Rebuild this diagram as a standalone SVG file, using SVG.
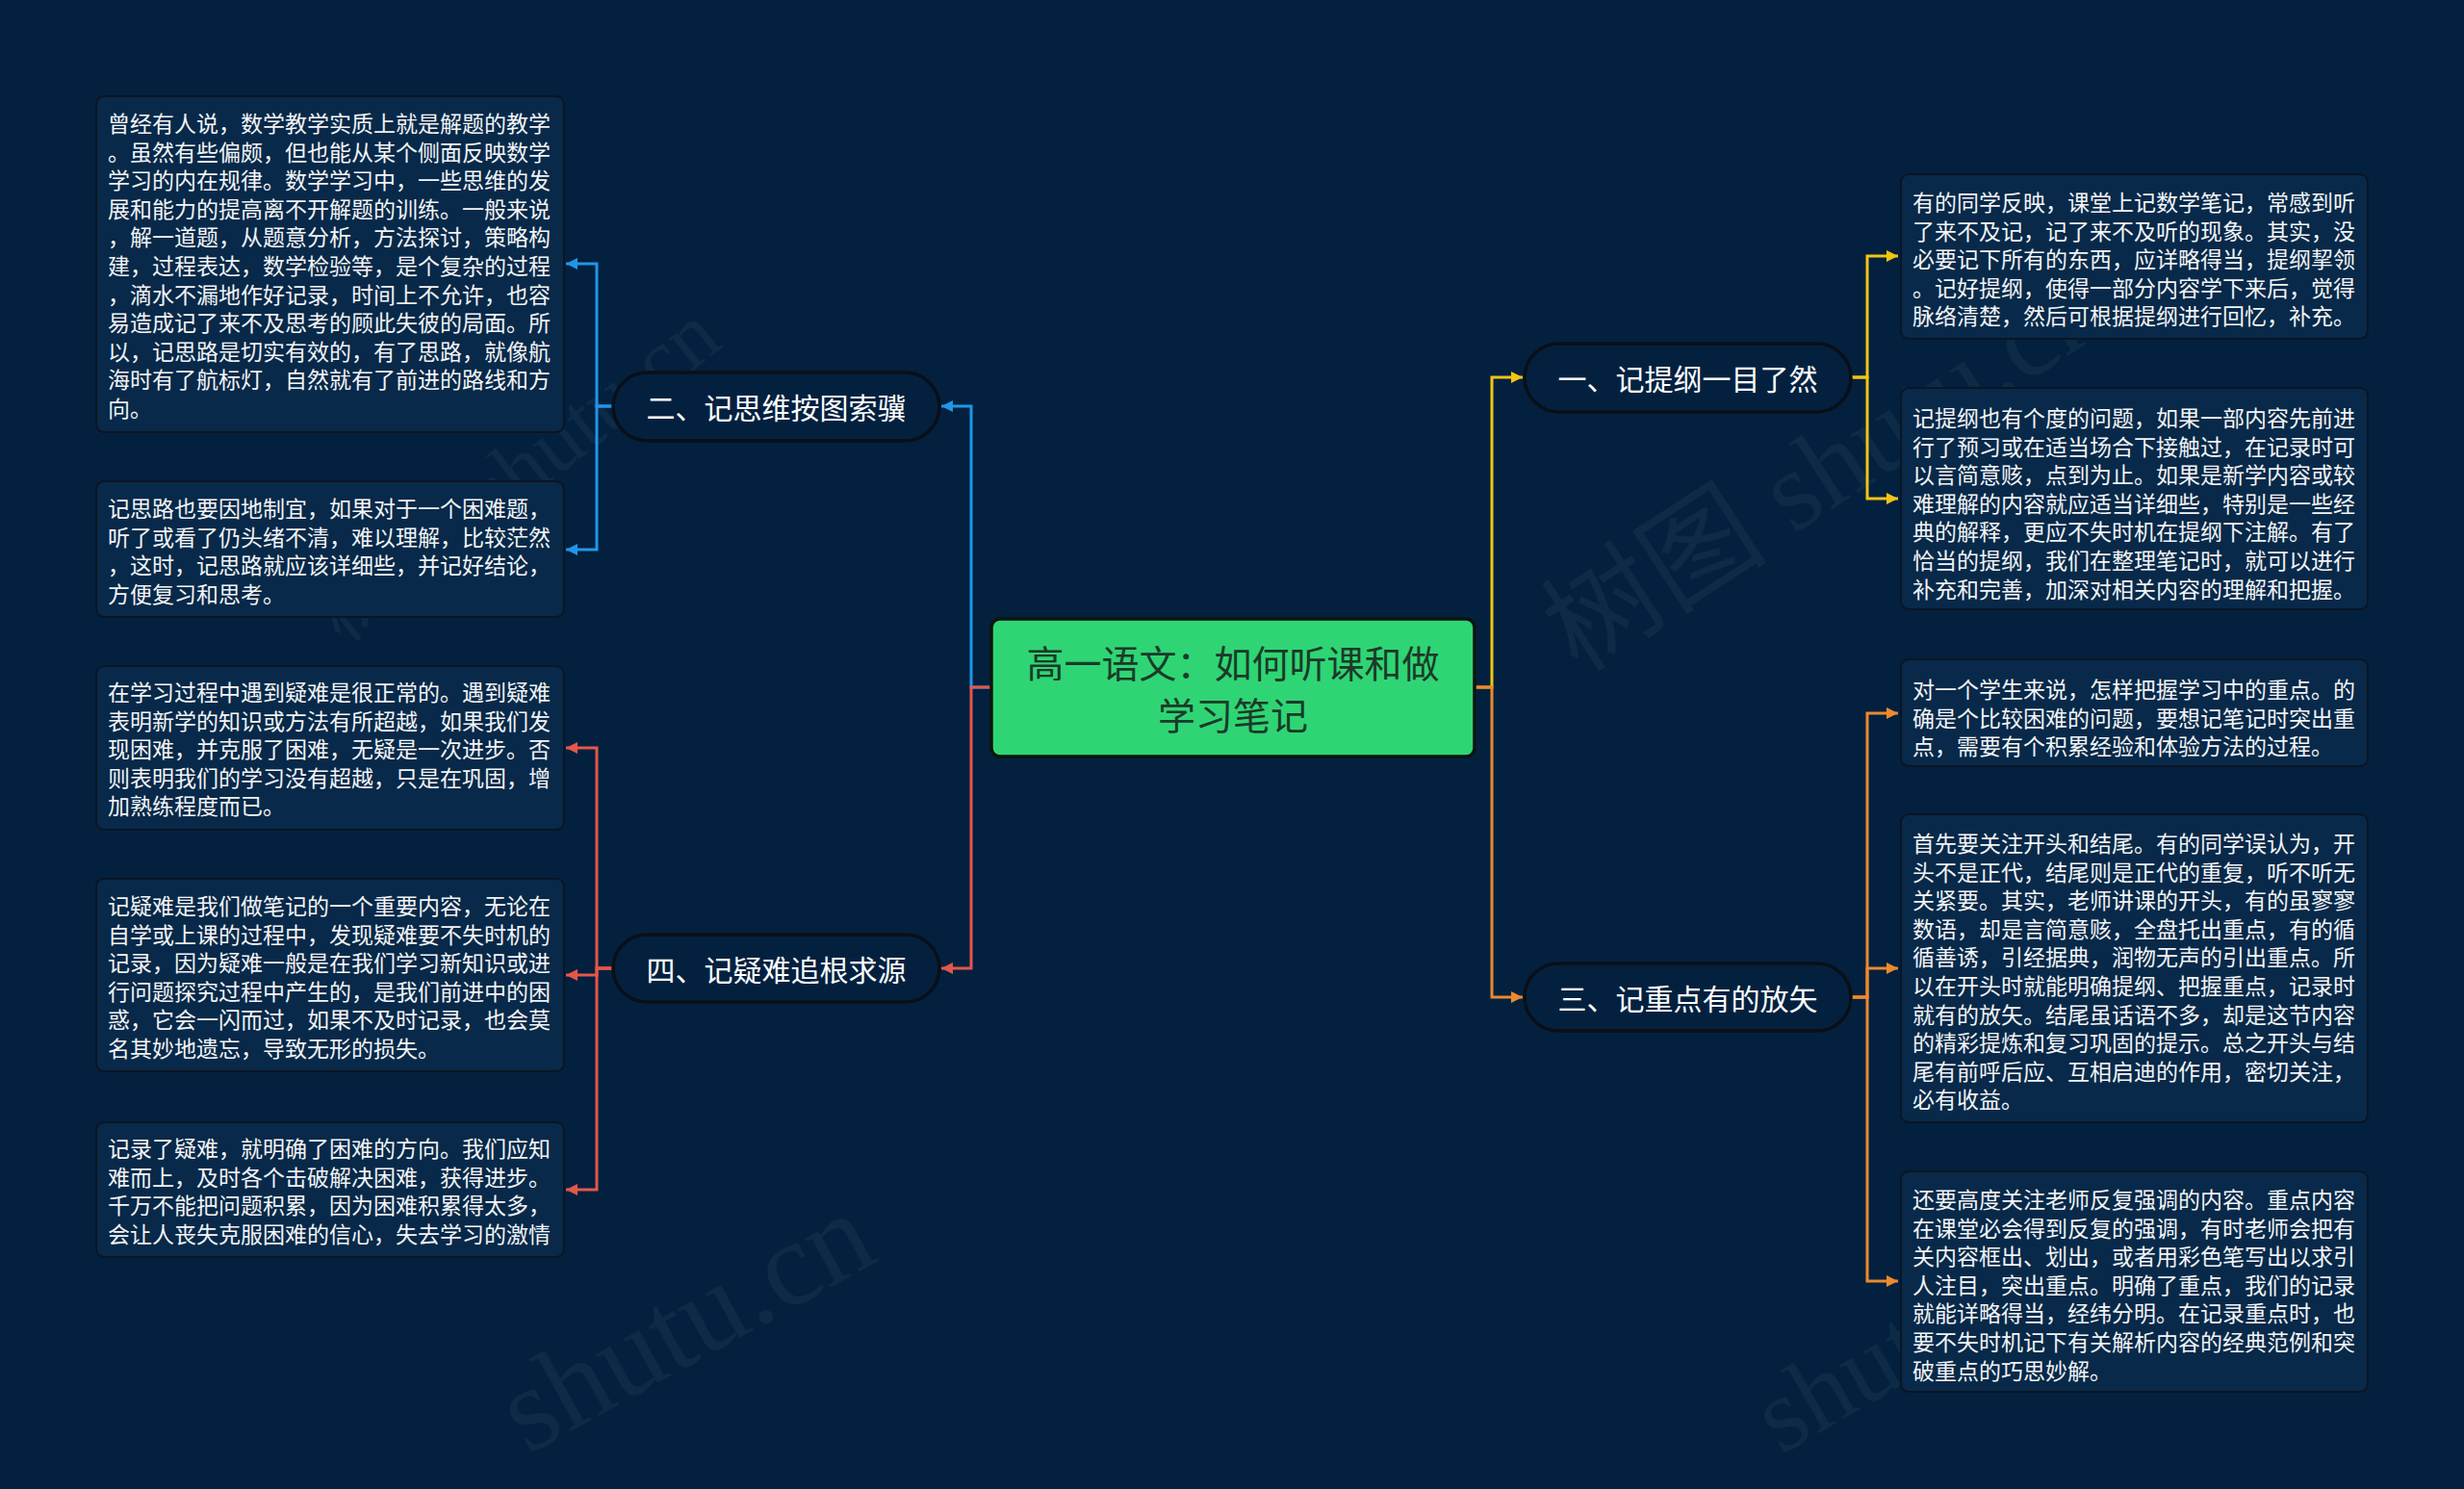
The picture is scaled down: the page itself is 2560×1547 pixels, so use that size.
<svg xmlns="http://www.w3.org/2000/svg" width="2560" height="1547" viewBox="0 0 2560 1547">
<style>
.bg{fill:#03213f}
.leaf{fill:#082949;stroke:#0c1522;stroke-width:2}
.pill{fill:#03213f;stroke:#0a0f18;stroke-width:3.5}
.lt{font-family:"Noto Sans CJK SC","Noto Sans",sans-serif;font-size:23px;fill:#f2f4f6;dominant-baseline:central}
.mt{font-family:"Noto Sans CJK SC","Noto Sans",sans-serif;font-size:30px;fill:#ffffff;text-anchor:middle;dominant-baseline:central}
.ct{font-family:"Noto Sans CJK SC","Noto Sans",sans-serif;font-size:39px;fill:#1b3a29;text-anchor:middle;dominant-baseline:central}
.wm{font-family:"Liberation Serif","Noto Sans CJK SC",serif;fill:#ffffff;fill-opacity:0.045}
.c{fill:none;stroke-width:3}
</style>
<defs>
<marker id="ay" viewBox="0 0 10 10" refX="10" refY="5" markerWidth="12" markerHeight="12" markerUnits="userSpaceOnUse" orient="auto"><path d="M0,0 L10,5 L0,10 z" fill="#f2c514"/></marker>
<marker id="ao" viewBox="0 0 10 10" refX="10" refY="5" markerWidth="12" markerHeight="12" markerUnits="userSpaceOnUse" orient="auto"><path d="M0,0 L10,5 L0,10 z" fill="#ec8a2e"/></marker>
<marker id="ab" viewBox="0 0 10 10" refX="10" refY="5" markerWidth="12" markerHeight="12" markerUnits="userSpaceOnUse" orient="auto"><path d="M0,0 L10,5 L0,10 z" fill="#2196e8"/></marker>
<marker id="ar" viewBox="0 0 10 10" refX="10" refY="5" markerWidth="12" markerHeight="12" markerUnits="userSpaceOnUse" orient="auto"><path d="M0,0 L10,5 L0,10 z" fill="#e5574a"/></marker>
</defs>
<rect class="bg" x="0" y="0" width="2560" height="1547"/>

<g id="watermarks">
<text class="wm" font-size="90" transform="translate(355,670) rotate(-38)">树图 shutu.cn</text>
<text class="wm" font-size="118" transform="translate(1640,700) rotate(-33)">树图 shutu.cn</text>
<text class="wm" font-size="125" transform="translate(548,1512) rotate(-29)">shutu.cn</text>
<text class="wm" font-size="110" transform="translate(1850,1512) rotate(-30)">shutu.cn</text>
</g>

<g id="connectors">
<path class="c" stroke="#f2c514" d="M1532,714 H1550 V392 H1582" marker-end="url(#ay)"/>
<path class="c" stroke="#ec8a2e" d="M1532,714 H1550 V1036 H1582" marker-end="url(#ao)"/>
<path class="c" stroke="#2196e8" d="M1030,714 H1009 V422 H978" marker-end="url(#ab)"/>
<path class="c" stroke="#e5574a" d="M1030,714 H1009 V1006 H978" marker-end="url(#ar)"/>
<path class="c" stroke="#f2c514" d="M1923,392 H1940 V266 H1972" marker-end="url(#ay)"/>
<path class="c" stroke="#f2c514" d="M1923,392 H1940 V518 H1972" marker-end="url(#ay)"/>
<path class="c" stroke="#ec8a2e" d="M1923,1036 H1940 V741 H1972" marker-end="url(#ao)"/>
<path class="c" stroke="#ec8a2e" d="M1923,1036 H1940 V1006 H1972" marker-end="url(#ao)"/>
<path class="c" stroke="#ec8a2e" d="M1923,1036 H1940 V1331 H1972" marker-end="url(#ao)"/>
<path class="c" stroke="#2196e8" d="M637,422 H620 V274 H588" marker-end="url(#ab)"/>
<path class="c" stroke="#2196e8" d="M637,422 H620 V571 H588" marker-end="url(#ab)"/>
<path class="c" stroke="#e5574a" d="M637,1006 H620 V777 H588" marker-end="url(#ar)"/>
<path class="c" stroke="#e5574a" d="M637,1006 H620 V1013 H588" marker-end="url(#ar)"/>
<path class="c" stroke="#e5574a" d="M637,1006 H620 V1236 H588" marker-end="url(#ar)"/>
</g>

<g id="center">
<rect x="1030" y="643" width="502" height="143" rx="9" fill="#2fd574" stroke="#0d1410" stroke-width="3.5"/>
<text class="ct" x="1281" y="687">高一语文：如何听课和做</text>
<text class="ct" x="1281" y="741">学习笔记</text>
</g>

<g id="n1">
<rect class="pill" x="1584" y="357" width="339" height="71" rx="35.5"/>
<text class="mt" x="1753.5" y="392">一、记提纲一目了然</text>
</g>
<g id="n3">
<rect class="pill" x="1584" y="1001" width="339" height="70" rx="35"/>
<text class="mt" x="1753.5" y="1036">三、记重点有的放矢</text>
</g>
<g id="n2">
<rect class="pill" x="637" y="387" width="339" height="71" rx="35.5"/>
<text class="mt" x="806.5" y="422">二、记思维按图索骥</text>
</g>
<g id="n4">
<rect class="pill" x="637" y="971" width="339" height="70" rx="35"/>
<text class="mt" x="806.5" y="1006">四、记疑难追根求源</text>
</g>

<g id="l1">
<rect class="leaf" x="100" y="100" width="486" height="349" rx="8"/>
<text class="lt" x="112" y="127">曾经有人说，数学教学实质上就是解题的教学</text>
<text class="lt" x="112" y="156.6">。虽然有些偏颇，但也能从某个侧面反映数学</text>
<text class="lt" x="112" y="186.2">学习的内在规律。数学学习中，一些思维的发</text>
<text class="lt" x="112" y="215.8">展和能力的提高离不开解题的训练。一般来说</text>
<text class="lt" x="112" y="245.4">，解一道题，从题意分析，方法探讨，策略构</text>
<text class="lt" x="112" y="275">建，过程表达，数学检验等，是个复杂的过程</text>
<text class="lt" x="112" y="304.6">，滴水不漏地作好记录，时间上不允许，也容</text>
<text class="lt" x="112" y="334.2">易造成记了来不及思考的顾此失彼的局面。所</text>
<text class="lt" x="112" y="363.8">以，记思路是切实有效的，有了思路，就像航</text>
<text class="lt" x="112" y="393.4">海时有了航标灯，自然就有了前进的路线和方</text>
<text class="lt" x="112" y="423">向。</text>
</g>
<g id="l2">
<rect class="leaf" x="100" y="500" width="486" height="141" rx="8"/>
<text class="lt" x="112" y="527">记思路也要因地制宜，如果对于一个困难题，</text>
<text class="lt" x="112" y="556.6">听了或看了仍头绪不清，难以理解，比较茫然</text>
<text class="lt" x="112" y="586.2">，这时，记思路就应该详细些，并记好结论，</text>
<text class="lt" x="112" y="615.8">方便复习和思考。</text>
</g>
<g id="l3">
<rect class="leaf" x="100" y="692" width="486" height="170" rx="8"/>
<text class="lt" x="112" y="718">在学习过程中遇到疑难是很正常的。遇到疑难</text>
<text class="lt" x="112" y="747.6">表明新学的知识或方法有所超越，如果我们发</text>
<text class="lt" x="112" y="777.2">现困难，并克服了困难，无疑是一次进步。否</text>
<text class="lt" x="112" y="806.8">则表明我们的学习没有超越，只是在巩固，增</text>
<text class="lt" x="112" y="836.4">加熟练程度而已。</text>
</g>
<g id="l4">
<rect class="leaf" x="100" y="913" width="486" height="200" rx="8"/>
<text class="lt" x="112" y="940">记疑难是我们做笔记的一个重要内容，无论在</text>
<text class="lt" x="112" y="969.6">自学或上课的过程中，发现疑难要不失时机的</text>
<text class="lt" x="112" y="999.2">记录，因为疑难一般是在我们学习新知识或进</text>
<text class="lt" x="112" y="1028.8">行问题探究过程中产生的，是我们前进中的困</text>
<text class="lt" x="112" y="1058.4">惑，它会一闪而过，如果不及时记录，也会莫</text>
<text class="lt" x="112" y="1088">名其妙地遗忘，导致无形的损失。</text>
</g>
<g id="l5">
<rect class="leaf" x="100" y="1166" width="486" height="140" rx="8"/>
<text class="lt" x="112" y="1192">记录了疑难，就明确了困难的方向。我们应知</text>
<text class="lt" x="112" y="1221.6">难而上，及时各个击破解决困难，获得进步。</text>
<text class="lt" x="112" y="1251.2">千万不能把问题积累，因为困难积累得太多，</text>
<text class="lt" x="112" y="1280.8">会让人丧失克服困难的信心，失去学习的激情</text>
</g>

<g id="r1">
<rect class="leaf" x="1975" y="181" width="485" height="171" rx="8"/>
<text class="lt" x="1987" y="209">有的同学反映，课堂上记数学笔记，常感到听</text>
<text class="lt" x="1987" y="238.6">了来不及记，记了来不及听的现象。其实，没</text>
<text class="lt" x="1987" y="268.2">必要记下所有的东西，应详略得当，提纲挈领</text>
<text class="lt" x="1987" y="297.8">。记好提纲，使得一部分内容学下来后，觉得</text>
<text class="lt" x="1987" y="327.4">脉络清楚，然后可根据提纲进行回忆，补充。</text>
</g>
<g id="r2">
<rect class="leaf" x="1975" y="403" width="485" height="230" rx="8"/>
<text class="lt" x="1987" y="433">记提纲也有个度的问题，如果一部内容先前进</text>
<text class="lt" x="1987" y="462.6">行了预习或在适当场合下接触过，在记录时可</text>
<text class="lt" x="1987" y="492.2">以言简意赅，点到为止。如果是新学内容或较</text>
<text class="lt" x="1987" y="521.8">难理解的内容就应适当详细些，特别是一些经</text>
<text class="lt" x="1987" y="551.4">典的解释，更应不失时机在提纲下注解。有了</text>
<text class="lt" x="1987" y="581">恰当的提纲，我们在整理笔记时，就可以进行</text>
<text class="lt" x="1987" y="610.6">补充和完善，加深对相关内容的理解和把握。</text>
</g>
<g id="r3">
<rect class="leaf" x="1975" y="685" width="485" height="111" rx="8"/>
<text class="lt" x="1987" y="715">对一个学生来说，怎样把握学习中的重点。的</text>
<text class="lt" x="1987" y="744.6">确是个比较困难的问题，要想记笔记时突出重</text>
<text class="lt" x="1987" y="774.2">点，需要有个积累经验和体验方法的过程。</text>
</g>
<g id="r4">
<rect class="leaf" x="1975" y="846" width="485" height="320" rx="8"/>
<text class="lt" x="1987" y="875">首先要关注开头和结尾。有的同学误认为，开</text>
<text class="lt" x="1987" y="904.6">头不是正代，结尾则是正代的重复，听不听无</text>
<text class="lt" x="1987" y="934.2">关紧要。其实，老师讲课的开头，有的虽寥寥</text>
<text class="lt" x="1987" y="963.8">数语，却是言简意赅，全盘托出重点，有的循</text>
<text class="lt" x="1987" y="993.4">循善诱，引经据典，润物无声的引出重点。所</text>
<text class="lt" x="1987" y="1023">以在开头时就能明确提纲、把握重点，记录时</text>
<text class="lt" x="1987" y="1052.6">就有的放矢。结尾虽话语不多，却是这节内容</text>
<text class="lt" x="1987" y="1082.2">的精彩提炼和复习巩固的提示。总之开头与结</text>
<text class="lt" x="1987" y="1111.8">尾有前呼后应、互相启迪的作用，密切关注，</text>
<text class="lt" x="1987" y="1141.4">必有收益。</text>
</g>
<g id="r5">
<rect class="leaf" x="1975" y="1217" width="485" height="229" rx="8"/>
<text class="lt" x="1987" y="1245">还要高度关注老师反复强调的内容。重点内容</text>
<text class="lt" x="1987" y="1274.6">在课堂必会得到反复的强调，有时老师会把有</text>
<text class="lt" x="1987" y="1304.2">关内容框出、划出，或者用彩色笔写出以求引</text>
<text class="lt" x="1987" y="1333.8">人注目，突出重点。明确了重点，我们的记录</text>
<text class="lt" x="1987" y="1363.4">就能详略得当，经纬分明。在记录重点时，也</text>
<text class="lt" x="1987" y="1393">要不失时机记下有关解析内容的经典范例和突</text>
<text class="lt" x="1987" y="1422.6">破重点的巧思妙解。</text>
</g>
</svg>
